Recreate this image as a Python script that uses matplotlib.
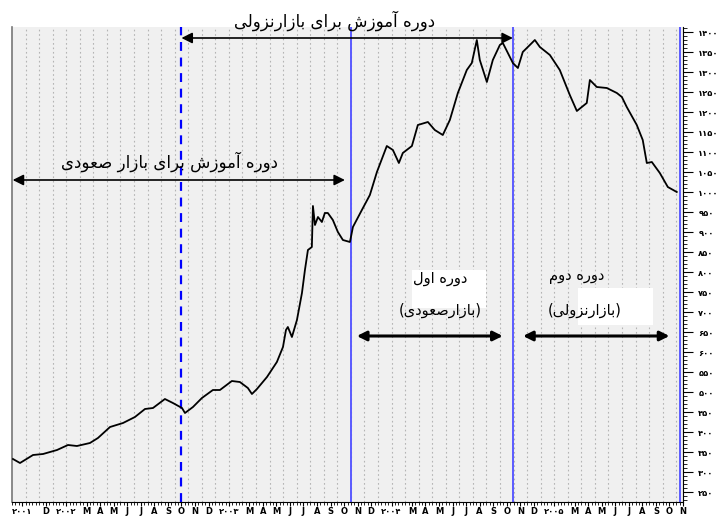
import matplotlib
matplotlib.use("Agg")
import matplotlib.pyplot as plt
from matplotlib.patches import Rectangle
from matplotlib.ticker import MultipleLocator

# ماه از ابتدای اکتبر ۲۰۰۱ و مقدار شاخص
months = [0.07, 0.59, 1.55, 2.29, 3.32, 4.13, 4.79, 5.75, 6.34, 7.23, 8.19, 9.07,
          9.81, 10.40, 11.28, 11.87, 12.54, 12.76, 13.35, 14.01, 14.82, 15.34, 16.22,
          16.81, 17.40, 17.70, 18.07, 18.81, 19.54, 19.99, 20.21, 20.35, 20.65, 21.02,
          21.39, 21.61, 21.83, 22.12, 22.20, 22.35, 22.57, 22.86, 23.08, 23.30, 23.67,
          24.04, 24.41, 24.93, 25.15, 25.81, 26.40, 26.92, 27.65, 28.10, 28.54, 28.83,
          29.50, 29.94, 30.68, 31.19, 31.78, 32.30, 32.89, 33.55, 33.92, 34.29, 34.51,
          35.03, 35.47, 35.99, 36.21, 36.58, 36.95, 37.32, 37.68, 38.35, 38.57, 38.94,
          39.68, 40.41, 41.15, 41.67, 42.40, 42.63, 43.14, 43.88, 44.62, 44.99, 45.35,
          46.09, 46.53, 46.83, 47.20, 47.79, 48.38, 49.04]
values = [332.5, 322.5, 342.5, 345, 355, 367.5, 365, 372.5, 385, 412.5, 422.5, 437.5,
          457.5, 460, 482.5, 472.5, 460, 447.5, 462.5, 485, 505, 505, 527.5,
          525, 510, 495, 507.5, 537.5, 575, 612.5, 655, 662.5, 637.5, 680,
          747.5, 805, 855, 862.5, 965, 917.5, 937.5, 925, 947.5, 947.5, 930,
          900, 880, 875, 912.5, 955, 992.5, 1050, 1115, 1105, 1072.5, 1097.5,
          1115, 1167.5, 1175, 1155, 1142.5, 1180, 1247.5, 1305, 1322.5, 1380, 1330,
          1275, 1330, 1367.5, 1372.5, 1347.5, 1322.5, 1310, 1350, 1372.5, 1380, 1362.5,
          1342.5, 1305, 1242.5, 1202.5, 1222.5, 1280, 1262.5, 1260, 1247.5, 1237.5, 1212.5,
          1167.5, 1130, 1072.5, 1075, 1047.5, 1012.5, 1000]

# خطوط عمودی مرز دوره‌ها
train_start = 12.46
period_lines = [25.0, 36.95, 49.26]

month_letters = ["O", "N", "D", "J", "F", "M", "A", "M", "J", "J", "A", "S"]
years = ["۲۰۰۱", "۲۰۰۲", "۲۰۰۳", "۲۰۰۴", "۲۰۰۵"]

y_ticks = list(range(250, 1401, 50))

FA_DIGITS = str.maketrans("0123456789", "۰۱۲۳۴۵۶۷۸۹")

# شکل‌دهی ساده حروف فارسی (matplotlib خودش اتصال حروف را انجام نمی‌دهد)
FORMS = {
    'ا': ('\uFE8D', '\uFE8E', None, None),
    'آ': ('\uFE81', '\uFE82', None, None),
    'ب': ('\uFE8F', '\uFE90', '\uFE91', '\uFE92'),
    'د': ('\uFEA9', '\uFEAA', None, None),
    'ر': ('\uFEAD', '\uFEAE', None, None),
    'ز': ('\uFEAF', '\uFEB0', None, None),
    'ش': ('\uFEB5', '\uFEB6', '\uFEB7', '\uFEB8'),
    'ص': ('\uFEB9', '\uFEBA', '\uFEBB', '\uFEBC'),
    'ع': ('\uFEC9', '\uFECA', '\uFECB', '\uFECC'),
    'ل': ('\uFEDD', '\uFEDE', '\uFEDF', '\uFEE0'),
    'م': ('\uFEE1', '\uFEE2', '\uFEE3', '\uFEE4'),
    'ن': ('\uFEE5', '\uFEE6', '\uFEE7', '\uFEE8'),
    'ه': ('\uFEE9', '\uFEEA', '\uFEEB', '\uFEEC'),
    'و': ('\uFEED', '\uFEEE', None, None),
    'ی': ('\uFBFC', '\uFBFD', '\uFBFE', '\uFBFF'),
}


def fa(s):
    out = []
    for i, ch in enumerate(s):
        if ch not in FORMS:
            out.append(ch)
            continue
        prev = s[i - 1] if i > 0 else ''
        nxt = s[i + 1] if i + 1 < len(s) else ''
        jp = prev in FORMS and FORMS[prev][2] is not None
        jn = FORMS[ch][2] is not None and nxt in FORMS
        iso, fin, ini, med = FORMS[ch]
        if jp and jn:
            out.append(med)
        elif jp:
            out.append(fin)
        elif jn:
            out.append(ini)
        else:
            out.append(iso)
    return ''.join(reversed(out))


plt.rcParams['font.family'] = ['DejaVu Sans']

fig = plt.figure(figsize=(7.18, 5.17), dpi=100)
ax = fig.add_axes([12 / 718, 15 / 517, 671 / 718, 475 / 517])
ax.set_facecolor('#f0f0f0')

for k in range(1, 50):
    ax.axvline(k, color='#b4b4b4', lw=0.8, ls=(0, (1.5, 2.5)), zorder=1)

ax.axvline(train_start, color='#0000ff', lw=1.6, ls=(0, (4, 3)), zorder=2)
for p in period_lines:
    ax.axvline(p, color='#5a5aff', lw=1.4, zorder=2)

ax.plot(months, values, color='black', lw=1.3, zorder=4)

ax.set_xlim(0, 49.5)
ax.set_ylim(225, 1412.5)

# برچسب‌های محور افقی
pos, labs = [], []
for k in range(50):
    letter = month_letters[k % 12]
    if k == 0:
        pos.append(0.75)
        labs.append(years[0])
    elif k == 1:
        continue
    elif letter == "J" and k % 12 == 3:
        pos.append(k + 1.0)
        labs.append(years[(k + 9) // 12])
    elif letter == "F":
        continue
    else:
        pos.append(k + 0.5)
        labs.append(letter)
ax.set_xticks(pos)
ax.set_xticklabels(labs, fontsize=6, fontweight='bold')
ax.xaxis.set_minor_locator(MultipleLocator(0.25))
ax.tick_params(axis='x', which='major', length=3, pad=0.5, width=0.8)
ax.tick_params(axis='x', which='minor', length=2.5, width=0.6)

ax.yaxis.tick_right()
ax.set_yticks(y_ticks)
ax.set_yticklabels([str(v).translate(FA_DIGITS) for v in y_ticks], fontsize=6,
                   fontweight='bold')
ax.yaxis.set_minor_locator(MultipleLocator(10))
ax.tick_params(axis='y', which='major', length=7, pad=4, width=0.8)
ax.tick_params(axis='y', which='minor', length=3, width=0.6)

ax.spines['top'].set_visible(False)
ax.spines['left'].set_color('#777777')
ax.spines['left'].set_linewidth(1.2)

# فلش‌ها و متن‌ها
arrow_thin = dict(arrowstyle='<|-|>', color='black', lw=1.2, mutation_scale=16,
                  shrinkA=0, shrinkB=0)
arrow_thick = dict(arrowstyle='<|-|>', color='black', lw=2.2, mutation_scale=14,
                   shrinkA=0, shrinkB=0)

ax.annotate('', xy=(12.5, 1385), xytext=(36.95, 1385), arrowprops=arrow_thin,
            annotation_clip=False, zorder=5)
ax.text(23.8, 1427, fa("دوره آموزش برای بازارنزولی"), ha='center', va='center',
        fontsize=12, clip_on=False, zorder=5)

ax.annotate('', xy=(0.05, 1030), xytext=(24.56, 1030), arrowprops=arrow_thin, zorder=5)
ax.text(11.65, 1075, fa("دوره آموزش برای بازار صعودی"), ha='center', va='center',
        fontsize=12, zorder=5)

ax.add_patch(Rectangle((29.5, 710), 5.46, 95, facecolor='white', edgecolor='none',
                       zorder=3))
ax.add_patch(Rectangle((41.74, 667.5), 5.53, 92.5, facecolor='white', edgecolor='none',
                       zorder=3))

ax.text(31.56, 785, fa("دوره اول"), ha='center', va='center', fontsize=10.5, zorder=5)
ax.text(31.56, 705, "(" + fa("بازارصعودی") + ")", ha='center', va='center',
        fontsize=10.5, zorder=5)
ax.text(41.67, 787.5, fa("دوره دوم"), ha='center', va='center', fontsize=10.5, zorder=5)
ax.text(42.26, 705, "(" + fa("بازارنزولی") + ")", ha='center', va='center',
        fontsize=10.5, zorder=5)

ax.annotate('', xy=(25.44, 640), xytext=(36.2, 640), arrowprops=arrow_thick, zorder=5)
ax.annotate('', xy=(37.7, 640), xytext=(48.5, 640), arrowprops=arrow_thick, zorder=5)

fig.savefig("out.png", dpi=100, facecolor='white')
